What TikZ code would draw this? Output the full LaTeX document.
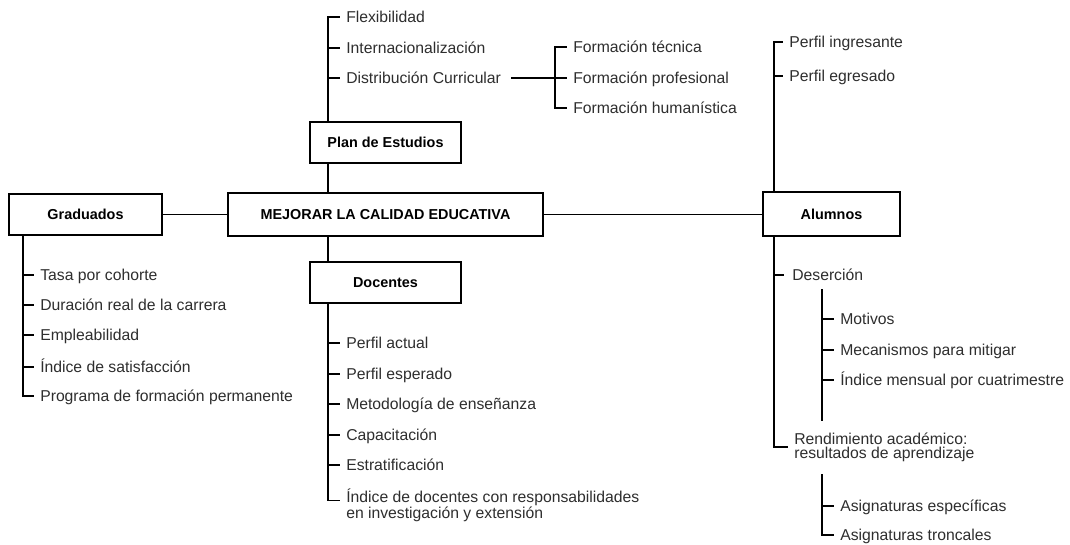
\documentclass[tikz,border=0pt]{standalone}
\usepackage{fontspec}
\setmainfont{Liberation Sans}
\begin{document}
\begin{tikzpicture}[x=0.75pt,y=-0.75pt,
  box/.style={draw=black,line width=1.5pt,inner sep=0pt,fill=white,
    font=\bfseries\fontsize{10.8}{13}\selectfont,text=black},
  item/.style={anchor=west,inner xsep=5.25pt,inner ysep=1pt,text height=8.4pt,text depth=0pt,
    font=\fontsize{11.8}{10.5}\selectfont,text=black!82},
  item2/.style={anchor=west,inner xsep=5.25pt,inner ysep=0pt,align=left,
    font=\fontsize{11.8}{10.5}\selectfont,text=black!82},
  spine/.style={line width=1.4pt,line cap=rect},
  link/.style={line width=1.2pt}]
\fill[white] (0,0) rectangle (1070,545);
\useasboundingbox (0,0) rectangle (1070,545);

% boxes
\node[box,minimum width=153*0.75pt,minimum height=41*0.75pt] (grad) at (85.5,214.5) {Graduados};
\node[box,minimum width=315*0.75pt,minimum height=43*0.75pt] (main) at (385.5,214.5) {MEJORAR LA CALIDAD EDUCATIVA};
\node[box,minimum width=151*0.75pt,minimum height=41*0.75pt] (plan) at (385.5,142.5) {Plan de Estudios};
\node[box,minimum width=151*0.75pt,minimum height=41*0.75pt] (doc) at (385.5,282.5) {Docentes};
\node[box,minimum width=137*0.75pt,minimum height=44*0.75pt] (alu) at (831.5,214.5) {Alumnos};

% spine coordinates
\coordinate (gv) at (23,0);
\coordinate (pv) at (328,0);
\coordinate (fv) at (555,0);
\coordinate (av) at (774,0);
\coordinate (sTop) at (822,290);
\coordinate (sBot) at (822,420);
\coordinate (tTop) at (822,475);

% main links
\draw[link] (grad) -- (main);
\draw[link] (main) -- (alu);
\draw[spine] (plan.south -| pv) -- (main.north -| pv);
\draw[spine] (main.south -| pv) -- (doc.north -| pv);

% Graduados items
\node[item] (g1) at (33,275) {Tasa por cohorte};
\node[item] (g2) at (33,305) {Duración real de la carrera};
\node[item] (g3) at (33,335) {Empleabilidad};
\node[item] (g4) at (33,367) {Índice de satisfacción};
\node[item] (g5) at (33,396) {Programa de formación permanente};
\draw[spine] (grad.south -| gv) |- (g5.west);
\foreach \n in {g1,g2,g3,g4} \draw[spine] (\n.west -| gv) -- (\n.west);

% Plan de Estudios items
\node[item] (p1) at (339,17) {Flexibilidad};
\node[item] (p2) at (339,48) {Internacionalización};
\node[item] (p3) at (339,78) {Distribución Curricular};
\draw[spine] (plan.north -| pv) |- (p1.west);
\foreach \n in {p2,p3} \draw[spine] (\n.west -| pv) -- (\n.west);

\node[item] (f1) at (566,47) {Formación técnica};
\node[item] (f2) at (566,78) {Formación profesional};
\node[item] (f3) at (566,108) {Formación humanística};
\draw[spine] (f1.west) -| (f3.west -| fv) -- (f3.west);
\draw[spine] ([xshift=3pt]p3.east) -- (f2.west);

% Docentes items
\node[item] (d1) at (339,343) {Perfil actual};
\node[item] (d2) at (339,374) {Perfil esperado};
\node[item] (d3) at (339,404) {Metodología de enseñanza};
\node[item] (d4) at (339,435) {Capacitación};
\node[item] (d5) at (339,465) {Estratificación};
\node[item2] (d6) at (339,505) {Índice de docentes con responsabilidades\\en investigación y extensión};
\draw[spine] (doc.south -| pv) |- ([yshift=3.4pt]d6.west);
\foreach \n in {d1,d2,d3,d4,d5} \draw[spine] (\n.west -| pv) -- (\n.west);

% Alumnos items
\node[item] (a1) at (782,42) {Perfil ingresante};
\node[item] (a2) at (782,76) {Perfil egresado};
\draw[spine] (alu.north -| av) |- (a1.west);
\draw[spine] (a2.west -| av) -- (a2.west);

\node[item] (a3) at (785,275) {Deserción};
\node[item2] (a4) at (787,447) {Rendimiento académico:\\resultados de aprendizaje};
\draw[spine] (alu.south -| av) |- (a4.west);
\draw[spine] (a3.west -| av) -- ([xshift=-1.5pt]a3.west);

\node[item] (s1) at (833,319) {Motivos};
\node[item] (s2) at (833,350) {Mecanismos para mitigar};
\node[item] (s3) at (833,380) {Índice mensual por cuatrimestre};
\draw[spine] (sTop) -- (sBot);
\foreach \n in {s1,s2,s3} \draw[spine] (\n.west -| sTop) -- (\n.west);

\node[item] (t1) at (833,506) {Asignaturas específicas};
\node[item] (t2) at (833,535) {Asignaturas troncales};
\draw[spine] (tTop) |- (t2.west);
\draw[spine] (t1.west -| tTop) -- (t1.west);
\end{tikzpicture}
\end{document}
